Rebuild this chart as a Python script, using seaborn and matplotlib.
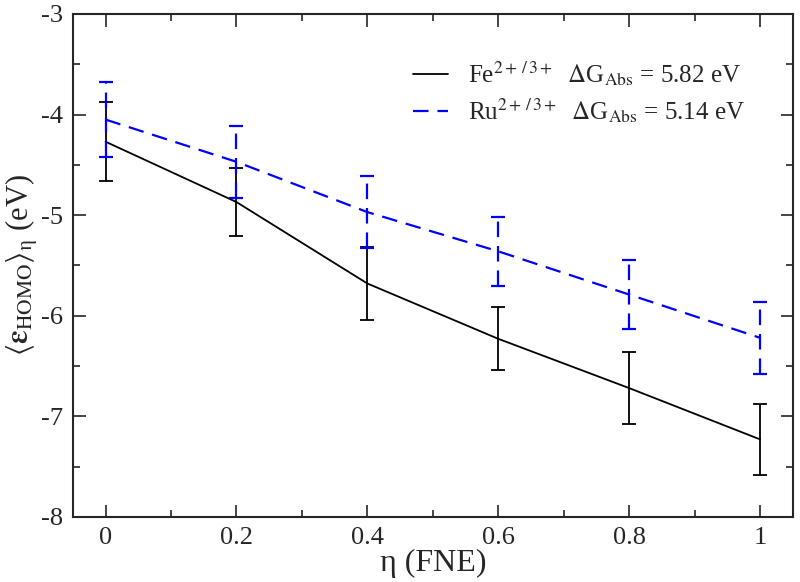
import numpy as np
import pandas as pd
import seaborn as sns
import matplotlib
matplotlib.use('Agg')
import matplotlib.pyplot as plt
from matplotlib.ticker import MultipleLocator

eta = [0.0, 0.2, 0.4, 0.6, 0.8, 1.0]
fe_homo = [-4.27, -4.87, -5.68, -6.23, -6.72, -7.23]
fe_err = [0.39, 0.34, 0.36, 0.315, 0.355, 0.35]
ru_homo = [-4.05, -4.47, -4.97, -5.36, -5.79, -6.22]
ru_err = [0.37, 0.355, 0.355, 0.345, 0.34, 0.36]

fe_label = r'Fe$^{2+\,/\,3+}$  $\Delta$G$_{\rm Abs}$ = 5.82 eV'
ru_label = r'Ru$^{2+\,/\,3+}$  $\Delta$G$_{\rm Abs}$ = 5.14 eV'

df = pd.DataFrame({
    'eta': eta + eta,
    'homo': fe_homo + ru_homo,
    'system': [fe_label] * len(eta) + [ru_label] * len(eta),
})

sns.set_style('ticks')
plt.rcParams['font.family'] = ['Liberation Serif', 'DejaVu Serif']
plt.rcParams['mathtext.fontset'] = 'stix'
plt.rcParams['axes.unicode_minus'] = False

fig = plt.figure(figsize=(8, 5.82), dpi=100)
ax = fig.add_axes([0.091, 0.112, 0.9, 0.864])

colors = {fe_label: 'black', ru_label: '#0000ff'}
sns.lineplot(data=df, x='eta', y='homo', hue='system', style='system',
             palette=colors, dashes={fe_label: '', ru_label: (7, 4)},
             hue_order=[fe_label, ru_label], ax=ax, legend=True)
for ln in ax.lines:
    ln.set_linewidth(1.3 if ln.get_color() == 'black' else 1.6)

ax.errorbar(eta, fe_homo, yerr=fe_err, fmt='none', ecolor='black',
            elinewidth=1.3, capsize=5, capthick=1.3)
eb = ax.errorbar(eta, ru_homo, yerr=ru_err, fmt='none', ecolor='#0000ff',
                 elinewidth=1.6, capsize=5, capthick=1.6)
eb[2][0].set_linestyle((0, (7, 4)))

ax.set_xlim(-0.05, 1.05)
ax.set_ylim(-8, -3)
ax.xaxis.set_minor_locator(MultipleLocator(0.1))
ax.yaxis.set_major_locator(MultipleLocator(1))
ax.yaxis.set_minor_locator(MultipleLocator(0.5))
ax.set_xticks(eta)
ax.set_xticklabels(['0', '0.2', '0.4', '0.6', '0.8', '1'])
ax.tick_params(which='both', direction='in', top=True, right=True, labelsize=19, width=1.2)
ax.tick_params(which='major', length=9)
ax.tick_params(which='minor', length=5)
ax.tick_params(axis='x', pad=7)
ax.tick_params(axis='y', pad=7)
for s in ax.spines.values():
    s.set_linewidth(1.5)

ax.set_xlabel('η (FNE)', fontsize=23, labelpad=0)
ax.set_ylabel(r'$\langle\boldsymbol{\varepsilon}_{\rm HOMO}\rangle_{\mathrm{η}}$ (eV)', fontsize=22, labelpad=1)

leg = ax.legend(loc='upper right', bbox_to_anchor=(0.965, 0.955), frameon=False,
                fontsize=18, handlelength=1.4, handletextpad=0.8, labelspacing=0.35)
leg.set_title(None)

fig.savefig('out.png', dpi=100)
